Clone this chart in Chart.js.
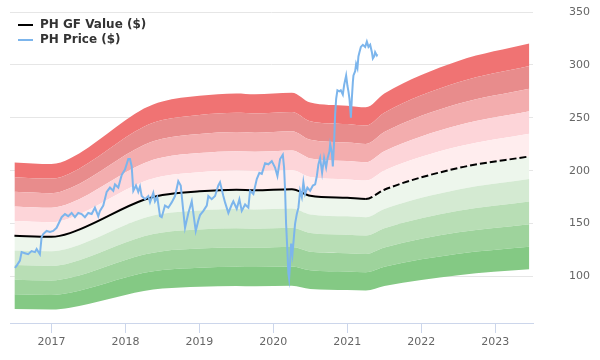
<!DOCTYPE html>
<html>
<head>
<meta charset="utf-8">
<script src="https://cdn.jsdelivr.net/npm/chart.js@4.4.1/dist/chart.umd.min.js"></script>
<style>
    body { margin: 0; background: #fff; }
    #wrap { position: relative; width: 600px; height: 360px; }
    #legend {
        position: absolute; left: 18px; top: 17px;
        font-family: "DejaVu Sans", sans-serif; font-size: 12px; font-weight: bold; color: #333;
    }
    #legend div { height: 15px; line-height: 15px; white-space: nowrap; }
    #legend span { display: inline-block; width: 15px; height: 2px; margin-right: 7px; vertical-align: middle; }
</style>
</head>
<body>
<div id="wrap">
    <canvas id="chart" width="600" height="360"></canvas>
    <div id="legend">
        <div><span style="background:#000"></span>PH GF Value ($)</div>
        <div><span style="background:#7cb5ec"></span>PH Price ($)</div>
    </div>
</div>
<script>
// GF Value (solid until 2021.25, estimate afterwards)
const gfYears = [2016.5, 2017.0, 2017.25, 2018.25, 2018.5, 2019.0, 2019.5, 2019.75,
    2020.25, 2020.5, 2021.0, 2021.25, 2021.5, 2022.5, 2023.46];
const gfValues = [138.5, 137.5, 141, 172.5, 177, 180.5, 182, 181.5,
    182.5, 176.3, 174.3, 173.3, 182, 202.5, 213.5];

// PH price
const priceYears = [2016.506, 2016.529, 2016.574, 2016.597, 2016.641, 2016.686, 2016.732, 2016.777,
    2016.800, 2016.844, 2016.867, 2016.889, 2016.935, 2016.980, 2017.024, 2017.070, 2017.138,
    2017.183, 2017.227, 2017.273, 2017.318, 2017.363, 2017.409, 2017.453, 2017.498, 2017.544,
    2017.588, 2017.633, 2017.656, 2017.701, 2017.747, 2017.791, 2017.836, 2017.859, 2017.904,
    2017.950, 2017.994, 2018.039, 2018.062, 2018.085, 2018.107, 2018.143, 2018.174, 2018.197,
    2018.220, 2018.265, 2018.310, 2018.333, 2018.377, 2018.400, 2018.431, 2018.468, 2018.491,
    2018.535, 2018.580, 2018.626, 2018.671, 2018.715, 2018.748, 2018.775, 2018.806, 2018.851,
    2018.897, 2018.918, 2018.951, 2018.986, 2019.009, 2019.054, 2019.100, 2019.121, 2019.167,
    2019.212, 2019.256, 2019.279, 2019.324, 2019.347, 2019.392, 2019.438, 2019.459, 2019.505,
    2019.541, 2019.573, 2019.618, 2019.662, 2019.685, 2019.730, 2019.776, 2019.811, 2019.844,
    2019.888, 2019.933, 2019.979, 2020.023, 2020.055, 2020.091, 2020.128, 2020.145, 2020.159,
    2020.172, 2020.190, 2020.203, 2020.213, 2020.226, 2020.240, 2020.258, 2020.281, 2020.294,
    2020.317, 2020.339, 2020.362, 2020.385, 2020.406, 2020.429, 2020.460, 2020.497, 2020.534,
    2020.565, 2020.588, 2020.609, 2020.632, 2020.659, 2020.686, 2020.713, 2020.731, 2020.758,
    2020.768, 2020.791, 2020.804, 2020.822, 2020.835, 2020.849, 2020.866, 2020.893, 2020.912,
    2020.939, 2020.957, 2020.984, 2021.002, 2021.015, 2021.029, 2021.048, 2021.061, 2021.075,
    2021.083, 2021.106, 2021.119, 2021.137, 2021.150, 2021.164, 2021.183, 2021.210, 2021.241,
    2021.264, 2021.286, 2021.309, 2021.332, 2021.345, 2021.363, 2021.376, 2021.399, 2021.407];
const priceValues = [108, 110, 115, 123, 122, 121, 124, 123,
    126, 121, 137, 140, 143, 142, 143, 146, 156,
    159, 157, 160, 156, 160, 159, 156, 160, 159,
    165, 157, 162, 167, 180, 184, 181, 187, 184,
    196, 201, 211, 211, 204, 181, 186, 180, 185,
    176, 173, 176, 170, 179, 171, 175, 157, 156,
    167, 165, 170, 176, 190, 186, 167, 146, 160,
    171, 160, 143, 153, 158, 162, 167, 176, 173,
    176, 186, 189, 176, 170, 160, 168, 171, 164,
    173, 162, 168, 165, 181, 178, 192, 198, 197,
    207, 206, 209, 203, 195, 211, 215, 203, 181,
    150, 124, 103, 98, 112, 131, 121, 140, 150,
    159, 165, 181, 175, 189, 178, 184, 181, 186,
    187, 195, 206, 212, 198, 212, 203, 211, 218,
    225, 217, 204, 228, 253, 268, 276, 275, 276,
    272, 281, 290, 280, 275, 268, 250, 268, 284,
    290, 294, 301, 297, 308, 312, 317, 319, 317,
    322, 317, 319, 312, 306, 308, 312, 309, 310];

// value bands around the GF Value line
const bandFactors = [0.5, 0.6, 0.7, 0.8, 0.9, 1.0, 1.1, 1.2, 1.3, 1.4, 1.5];
const bandColors = ["#84c984", "#9ed39c", "#b8deb5", "#d4ead2", "#edf6ec",
    "#ffedee", "#fdd5d9", "#f3adae", "#e88c8c", "#f07373"];

const yearTicks = [2017, 2018, 2019, 2020, 2021, 2022, 2023];
const valueTicks = [100, 150, 200, 250, 300, 350];

const gfPoints = gfYears.map((x, i) => ({ x: x, y: gfValues[i] }));
const pricePoints = priceYears.map((x, i) => ({ x: x, y: priceValues[i] }));

const bandSets = bandFactors.map((f, i) => ({
    data: gfPoints.map(p => ({ x: p.x, y: p.y * f })),
    borderWidth: 0,
    pointRadius: 0,
    cubicInterpolationMode: "monotone",
    backgroundColor: i > 0 ? bandColors[i - 1] : "transparent",
    fill: i > 0 ? "-1" : false
}));

const tickFont = { family: "DejaVu Sans", size: 11 };

new Chart(document.getElementById("chart"), {
    type: "line",
    data: {
        datasets: [
            {
                label: "PH Price ($)",
                data: pricePoints,
                borderColor: "#7cb5ec",
                borderWidth: 2,
                pointRadius: 0,
                tension: 0,
                fill: false
            },
            {
                label: "PH GF Value ($)",
                data: gfPoints,
                borderColor: "#000",
                borderWidth: 2,
                pointRadius: 0,
                cubicInterpolationMode: "monotone",
                fill: false,
                segment: {
                    borderDash: ctx => ctx.p0.parsed.x >= 2021.25 ? [7, 3] : undefined
                }
            },
            ...bandSets
        ]
    },
    options: {
        responsive: false,
        animation: false,
        devicePixelRatio: 1,
        layout: { padding: { left: 10, right: 10, top: 12, bottom: 10 } },
        plugins: {
            legend: { display: false },
            tooltip: { enabled: false }
        },
        scales: {
            x: {
                type: "linear",
                min: 2016.44,
                max: 2023.51,
                afterBuildTicks: axis => { axis.ticks = yearTicks.map(v => ({ value: v })); },
                afterFit: axis => { axis.height = 27; },
                grid: { drawOnChartArea: false, tickLength: 10, color: "#ccd6eb" },
                border: { color: "#ccd6eb" },
                ticks: { color: "#666", font: tickFont, padding: 3, callback: v => String(v) }
            },
            y: {
                position: "right",
                min: 56,
                max: 350,
                afterBuildTicks: axis => { axis.ticks = valueTicks.map(v => ({ value: v })); },
                afterFit: axis => { axis.width = 57; },
                grid: { color: "#e6e6e6", drawTicks: true, tickLength: 34, tickColor: "rgba(0,0,0,0)" },
                border: { display: false },
                ticks: { color: "#666", font: tickFont, padding: 2, callback: v => String(v) }
            }
        }
    }
});
</script>
</body>
</html>
